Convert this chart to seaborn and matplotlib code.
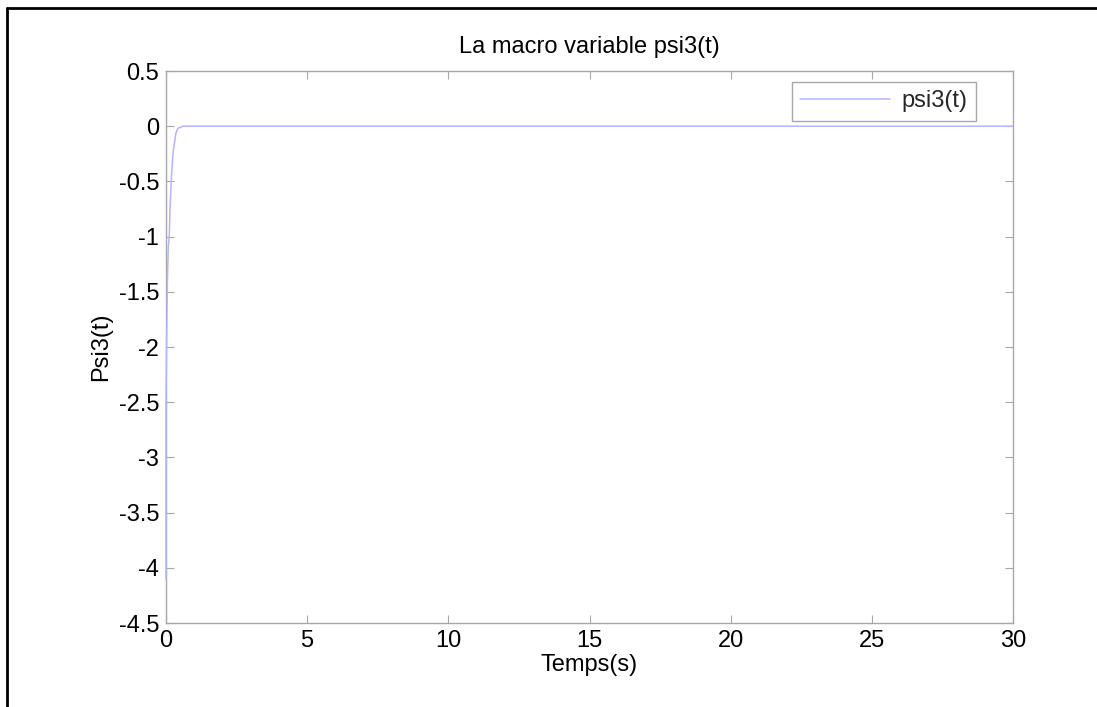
import matplotlib
matplotlib.use("Agg")
import matplotlib.pyplot as plt
from matplotlib.lines import Line2D
import seaborn as sns
import pandas as pd

# Time samples (s) and response of the macro variable psi3
temps = [0.0, 0.0, 0.02, 0.05, 0.08, 0.12, 0.14, 0.20, 0.26, 0.35, 0.42, 0.59, 5.0, 10.0, 15.0, 20.0, 25.0, 30.0]
psi3 = [-4.1, -2.5, -2.0, -1.4, -1.1, -0.97, -0.76, -0.42, -0.22, -0.064, -0.02, 0.0, 0.0, 0.0, 0.0, 0.0, 0.0, 0.0]

x_ticks = [0, 5, 10, 15, 20, 25, 30]
y_ticks = [0.5, 0, -0.5, -1, -1.5, -2, -2.5, -3, -3.5, -4, -4.5]
y_tick_labels = ["0.5", "0", "-0.5", "-1", "-1.5", "-2", "-2.5", "-3", "-3.5", "-4", "-4.5"]

sns.set_theme(style="white")
plt.rcParams["font.family"] = ["Liberation Sans", "DejaVu Sans"]

df = pd.DataFrame({"t": temps, "psi3": psi3})

W, H = 1097, 707
fig = plt.figure(figsize=(W / 100, H / 100), dpi=100)
ax = fig.add_axes([166 / W, 1 - 623 / H, (1013 - 166) / W, (623 - 71) / H])

sns.lineplot(data=df, x="t", y="psi3", sort=False, estimator=None, ax=ax,
             color="#b4b4ff", linewidth=1.1, label="psi3(t)")
for ln in ax.get_lines():
    ln.set_clip_on(False)
    ln.set_zorder(3)

ax.set_xlim(0, 30)
ax.set_ylim(-4.5, 0.5)
ax.set_xticks(x_ticks)
ax.set_xticklabels([str(v) for v in x_ticks])
ax.set_yticks(y_ticks)
ax.set_yticklabels(y_tick_labels)

fs = 17
ax.tick_params(axis="both", which="both", direction="in", length=6, width=0.8,
               color="#a8a8a8", labelsize=fs, labelcolor="black",
               top=True, right=True, bottom=True, left=True, pad=5)
for s in ax.spines.values():
    s.set_visible(True)
    s.set_color("#a8a8a8")
    s.set_linewidth(1.0)
    s.set_zorder(2)

ax.set_title("La macro variable psi3(t)", fontsize=fs, color="black", pad=13)
ax.set_xlabel("Temps(s)", fontsize=fs, color="black")
ax.set_ylabel("Psi3(t)", fontsize=fs, color="black")
ax.xaxis.set_label_coords(0.5, -0.056)
ax.yaxis.set_label_coords(-0.064, 0.5)

leg = ax.legend(loc="upper right", fontsize=fs, frameon=True, fancybox=False,
                handlelength=3.8, handletextpad=0.5, borderpad=0.35, borderaxespad=0.0,
                bbox_to_anchor=(976 / W, 1 - 82 / H), bbox_transform=fig.transFigure)
leg.get_frame().set_edgecolor("#a8a8a8")
leg.get_frame().set_linewidth(1.0)
leg.get_frame().set_alpha(1)

# Outer frame around the figure (top and left edges)
fig.add_artist(Line2D([7 / W, 1.0], [1 - 8 / H, 1 - 8 / H],
                      transform=fig.transFigure, color="black", linewidth=2.0))
fig.add_artist(Line2D([7 / W, 7 / W], [0.0, 1 - 8 / H],
                      transform=fig.transFigure, color="black", linewidth=2.0))

fig.savefig("out.png", dpi=100, facecolor="white")
